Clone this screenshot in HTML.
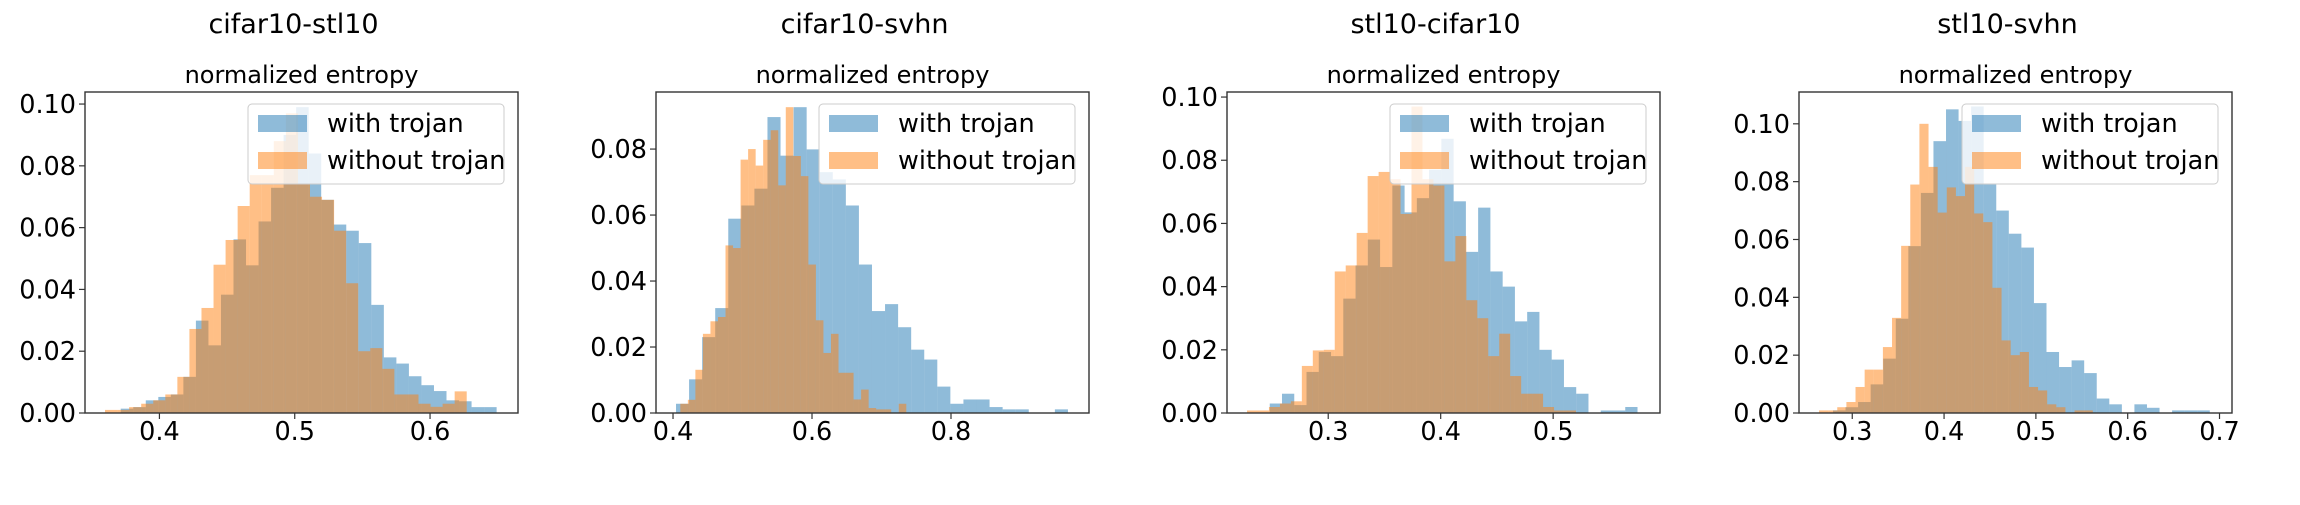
<!DOCTYPE html>
<html><head><meta charset="utf-8">
<style>
html,body{margin:0;padding:0;background:#fff;}
svg text{font-family:"DejaVu Sans","Liberation Sans",sans-serif;fill:#000;}
</style></head>
<body>
<svg id="fig" width="2300" height="500" viewBox="0 0 2300 500" xmlns="http://www.w3.org/2000/svg"></svg>
<script>
// ---- data ----
const panelTitles = ["cifar10-stl10","cifar10-svhn","stl10-cifar10","stl10-svhn"];
const seriesNames = ["with trojan","without trojan"];

// panel 1: cifar10-stl10
const p1BlueStart = 0.3714, p1BlueWidth = 0.00926;
const p1Blue = [0.0014,0.0019,0.0041,0.0052,0.006,0.0117,0.0299,0.0219,0.0383,0.0562,0.0478,0.062,0.0729,0.090,0.099,0.084,0.069,0.061,0.059,0.055,0.035,0.018,0.016,0.0119,0.009,0.0071,0.0041,0.0038,0.0019,0.0019];
const p1OrangeStart = 0.3598, p1OrangeWidth = 0.00891;
const p1Orange = [0.001,0.001,0.0019,0.003,0.0041,0.006,0.0117,0.0272,0.034,0.048,0.056,0.067,0.077,0.077,0.088,0.097,0.074,0.070,0.069,0.059,0.042,0.020,0.021,0.0143,0.006,0.006,0.003,0.002,0.003,0.007];

// panel 2: cifar10-svhn
const p2BlueStart = 0.4043, p2BlueWidth = 0.0188;
const p2Blue = [0.0028,0.0102,0.023,0.0318,0.0589,0.0629,0.068,0.0897,0.078,0.0927,0.0799,0.073,0.0708,0.0629,0.045,0.0309,0.033,0.026,0.0192,0.0162,0.008,0.0028,0.0041,0.0041,0.0018,0.0011,0.0011,0,0,0.0011];
const p2OrangeStart = 0.4105, p2OrangeWidth = 0.01084;
const p2Orange = [0.0028,0.004,0.0131,0.024,0.0278,0.0291,0.0508,0.05,0.0768,0.080,0.075,0.0828,0.0857,0.069,0.0927,0.0779,0.0718,0.045,0.0281,0.0182,0.024,0.0122,0.0122,0.0041,0.0071,0.0015,0.0011,0.0011,0,0.0028];

// panel 3: stl10-cifar10
const p3BlueStart = 0.248, p3BlueWidth = 0.0109;
const p3Blue = [0.003,0.0061,0.0025,0.013,0.0193,0.018,0.0362,0.0467,0.0549,0.0462,0.072,0.0635,0.068,0.077,0.0868,0.067,0.051,0.065,0.0448,0.040,0.029,0.032,0.020,0.0169,0.0082,0.0061,0,0.0008,0.0008,0.0019];
const p3OrangeStart = 0.2278, p3OrangeWidth = 0.00975;
const p3Orange = [0.0008,0.0008,0.0019,0.003,0.0037,0.0149,0.0198,0.020,0.0448,0.0467,0.057,0.075,0.0763,0.074,0.063,0.097,0.074,0.072,0.048,0.056,0.0357,0.030,0.018,0.0251,0.0117,0.0061,0.0061,0.0019,0.0008,0.0008];

// panel 4: stl10-svhn
const p4BlueStart = 0.279, p4BlueWidth = 0.01368;
const p4Blue = [0.0009,0.002,0.0038,0.0099,0.0188,0.0326,0.0577,0.0761,0.094,0.105,0.101,0.106,0.079,0.070,0.062,0.0572,0.038,0.0211,0.0159,0.0182,0.0138,0.005,0.003,0,0.003,0.0018,0,0.0009,0.0009,0.0009];
const p4OrangeStart = 0.2638, p4OrangeWidth = 0.00994;
const p4Orange = [0.0009,0.0009,0.002,0.0038,0.009,0.015,0.015,0.0228,0.0329,0.0578,0.079,0.100,0.0851,0.0693,0.078,0.075,0.0851,0.069,0.066,0.0433,0.0251,0.020,0.0211,0.009,0.0078,0.003,0.002,0,0.0009,0.0009];

const xTicks = [[0.4,0.5,0.6],[0.4,0.6,0.8],[0.3,0.4,0.5],[0.3,0.4,0.5,0.6,0.7]];
const xTickLabels = [["0.4","0.5","0.6"],["0.4","0.6","0.8"],["0.3","0.4","0.5"],["0.3","0.4","0.5","0.6","0.7"]];
const yTicks = [[0,0.02,0.04,0.06,0.08,0.10],[0,0.02,0.04,0.06,0.08],[0,0.02,0.04,0.06,0.08,0.10],[0,0.02,0.04,0.06,0.08,0.10]];
const yTickLabels = [["0.00","0.02","0.04","0.06","0.08","0.10"],["0.00","0.02","0.04","0.06","0.08"],["0.00","0.02","0.04","0.06","0.08","0.10"],["0.00","0.02","0.04","0.06","0.08","0.10"]];
const xDomains = [[0.345,0.665],[0.3755,0.9986],[0.210,0.595],[0.242,0.7136]];
const yDomains = [[0,0.1039],[0,0.0973],[0,0.1016],[0,0.111]];

// ---- layout ----
const NS = "http://www.w3.org/2000/svg";
const svg = document.getElementById("fig");
const axLeft = [85,656,1227,1799];
const axW = 433, axTop = 92, axBottom = 413;
const panels = [
  {bs:p1BlueStart,bw:p1BlueWidth,b:p1Blue,os:p1OrangeStart,ow:p1OrangeWidth,o:p1Orange},
  {bs:p2BlueStart,bw:p2BlueWidth,b:p2Blue,os:p2OrangeStart,ow:p2OrangeWidth,o:p2Orange},
  {bs:p3BlueStart,bw:p3BlueWidth,b:p3Blue,os:p3OrangeStart,ow:p3OrangeWidth,o:p3Orange},
  {bs:p4BlueStart,bw:p4BlueWidth,b:p4Blue,os:p4OrangeStart,ow:p4OrangeWidth,o:p4Orange}
];
function mk(tag, attrs, parent){
  const el = document.createElementNS(NS, tag);
  for (const k in attrs) el.setAttribute(k, attrs[k]);
  (parent||svg).appendChild(el);
  return el;
}

panels.forEach((p, i) => {
  const L = axLeft[i], R = L + axW;
  const xs = v => L + (v - xDomains[i][0]) / (xDomains[i][1] - xDomains[i][0]) * axW;
  const ys = v => axBottom - (v - yDomains[i][0]) / (yDomains[i][1] - yDomains[i][0]) * (axBottom - axTop);
  const g = mk("g", {});
  
  

  const st = mk("text", {x: (L+R)/2 - 8, y: 33, "text-anchor":"middle", "font-size":"27"}, g);
  st.textContent = panelTitles[i];
  
  

  const sub = mk("text", {x: (L+R)/2, y: 83, "text-anchor":"middle", "font-size":"24"}, g);
  sub.textContent = "normalized entropy";
  
  

  const bars = mk("g", {}, g);
  
  
  p.b.forEach((v, k) => {
    const x0 = xs(p.bs + k*p.bw), x1 = xs(p.bs + (k+1)*p.bw);
    const r = mk("rect", {x:x0, y:ys(v), width:x1-x0, height:axBottom-ys(v), fill:"#1f77b4", "fill-opacity":"0.5"}, bars);
    
    
  });
  p.o.forEach((v, k) => {
    const x0 = xs(p.os + k*p.ow), x1 = xs(p.os + (k+1)*p.ow);
    const r = mk("rect", {x:x0, y:ys(v), width:x1-x0, height:axBottom-ys(v), fill:"#ff7f0e", "fill-opacity":"0.5"}, bars);
    
    
  });

  const frame = mk("rect", {x:L, y:axTop, width:axW, height:axBottom-axTop, fill:"none", stroke:"#333", "stroke-width":"1.4"}, g);
  
  

  yTicks[i].forEach((t, k) => {
    const y = ys(t);
    const tk = mk("line", {x1:L-6, x2:L, y1:y, y2:y, stroke:"#333", "stroke-width":"1.2"}, g);
    
    
    const tl = mk("text", {x:L-9, y:y+9, "text-anchor":"end", "font-size":"25.5"}, g);
    tl.textContent = yTickLabels[i][k];
    
    
  });
  xTicks[i].forEach((t, k) => {
    const x = xs(t);
    const tk = mk("line", {x1:x, x2:x, y1:axBottom, y2:axBottom+6, stroke:"#333", "stroke-width":"1.2"}, g);
    
    
    const tl = mk("text", {x:x, y:440, "text-anchor":"middle", "font-size":"25.5"}, g);
    tl.textContent = xTickLabels[i][k];
    
    
  });

  const lg = mk("g", {}, g);
  
  
  mk("rect", {x:L+163, y:axTop+12, width:256, height:80, rx:4, fill:"#fff", "fill-opacity":"0.8", stroke:"#ccc", "stroke-width":"1"}, lg);
  const cols = ["#1f77b4","#ff7f0e"];
  seriesNames.forEach((n, k) => {
    const py = axTop + (k ? 60 : 23);
    const sw = mk("rect", {x:L+173, y:py, width:49, height:17, fill:cols[k], "fill-opacity":"0.5"}, lg);
    
    
    const tx = mk("text", {x:L+242, y:py+17, "font-size":"25.5"}, lg);
    tx.textContent = n;
    
    
  });
});
</script>
</body></html>
